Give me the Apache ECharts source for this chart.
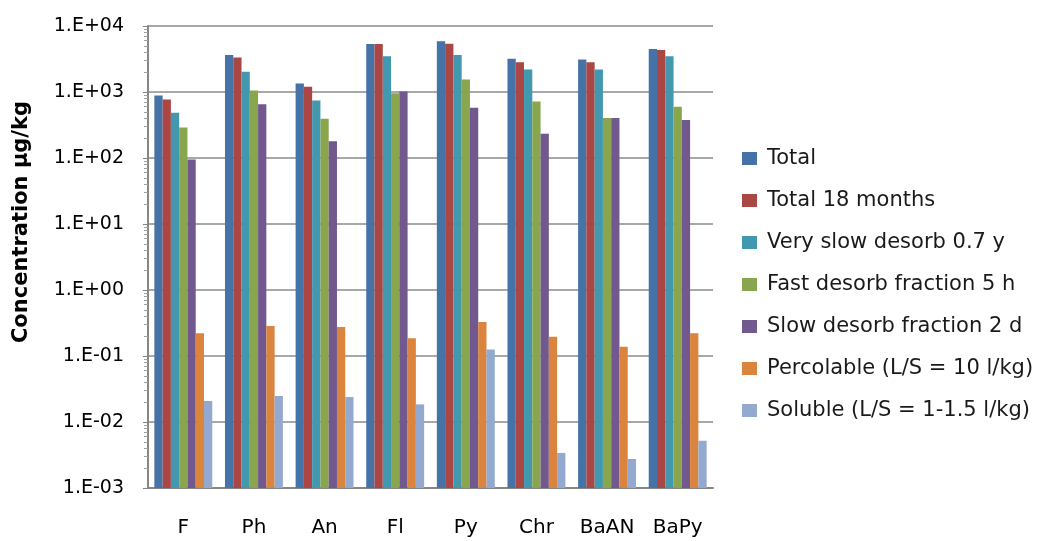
<!DOCTYPE html>
<html>
<head>
<meta charset="utf-8">
<script src="https://cdn.jsdelivr.net/npm/echarts@6/dist/echarts.min.js"></script>
<style>
  html, body { margin: 0; padding: 0; background: #fff; }
  #chart { width: 1040px; height: 541px; }
</style>
</head>
<body>
<div id="chart"></div>
<script>
// Categories (PAH compounds)
const categories = ['F', 'Ph', 'An', 'Fl', 'Py', 'Chr', 'BaAN', 'BaPy'];

// Series values (µg/kg)
const total          = [885, 3650, 1340, 5350, 5860, 3200, 3100, 4500];
const total18        = [770, 3320, 1200, 5350, 5400, 2830, 2830, 4340];
const verySlow       = [484, 2020, 744, 3480, 3650, 2190, 2190, 3480];
const fastDesorb     = [291, 1050, 394, 960, 1545, 718, 402, 597];
const slowDesorb     = [95, 654, 179, 1020, 577, 233, 402, 375];
const percolable     = [0.221, 0.285, 0.275, 0.185, 0.327, 0.196, 0.138, 0.221];
const soluble        = [0.0208, 0.0248, 0.0239, 0.0185, 0.126, 0.0034, 0.00275, 0.0052];

const seriesNames = [
    'Total',
    'Total 18 months',
    'Very slow desorb 0.7 y',
    'Fast desorb fraction 5 h',
    'Slow desorb fraction 2 d',
    'Percolable (L/S = 10 l/kg)',
    'Soluble (L/S = 1-1.5 l/kg)'
];
const seriesData = [total, total18, verySlow, fastDesorb, slowDesorb, percolable, soluble];
const colors = ['#4572A7', '#AA4643', '#4198AF', '#89A54E', '#71588F', '#DB843D', '#93A9CF'];

const FONT = '"DejaVu Sans", sans-serif';

function sciLabel(v) {
    const e = Math.round(Math.log10(v));
    const sign = e < 0 ? '-' : '+';
    const abs = Math.abs(e);
    return '1.E' + sign + (abs < 10 ? '0' + abs : abs);
}

const chart = echarts.init(document.getElementById('chart'));

const option = {
    animation: false,
    color: colors,
    grid: { left: 148, right: 327, top: 26, bottom: 53, show: false },
    legend: {
        orient: 'vertical',
        left: 737,
        top: 143,
        itemWidth: 15,
        itemHeight: 13,
        itemGap: 21,
        icon: 'rect',
        textStyle: {
            fontFamily: FONT,
            fontSize: 21,
            color: '#1a1a1a',
            lineHeight: 20,
            padding: [0, 0, 0, 5]
        },
        data: seriesNames
    },
    graphic: [{
        type: 'text',
        x: 22,
        y: 222,
        rotation: Math.PI / 2,
        style: {
            text: 'Concentration µg/kg',
            font: 'bold 21px ' + FONT,
            fill: '#000',
            textAlign: 'center',
            textVerticalAlign: 'middle'
        }
    }],
    xAxis: {
        type: 'category',
        data: categories,
        axisLine: { onZero: false, lineStyle: { color: '#868686', width: 2 } },
        axisTick: { show: false },
        splitLine: { show: false },
        axisLabel: { fontFamily: FONT, fontSize: 20, color: '#000', margin: 30, interval: 0 }
    },
    yAxis: {
        type: 'log',
        logBase: 10,
        min: 0.001,
        max: 10000,
        interval: 1,
        startValue: 0.001,
        axisLine: { show: true, onZero: false, lineStyle: { color: '#868686', width: 2 } },
        axisTick: { show: true, length: 5, lineStyle: { color: '#868686', width: 1 } },
        minorTick: { show: true, splitNumber: 9, length: 4, lineStyle: { color: '#A0A0A0', width: 1 } },
        minorSplitLine: { show: false },
        axisLabel: {
            fontFamily: FONT,
            fontSize: 19,
            color: '#000',
            margin: 24,
            formatter: sciLabel
        },
        splitLine: { show: true, lineStyle: { color: '#A8A8A8', width: 2 } }
    },
    series: seriesNames.map((name, i) => ({
        name: name,
        type: 'bar',
        data: seriesData[i],
        barGap: '0%',
        barCategoryGap: '18%',
        itemStyle: { color: colors[i] }
    }))
};

chart.setOption(option);
</script>
</body>
</html>
